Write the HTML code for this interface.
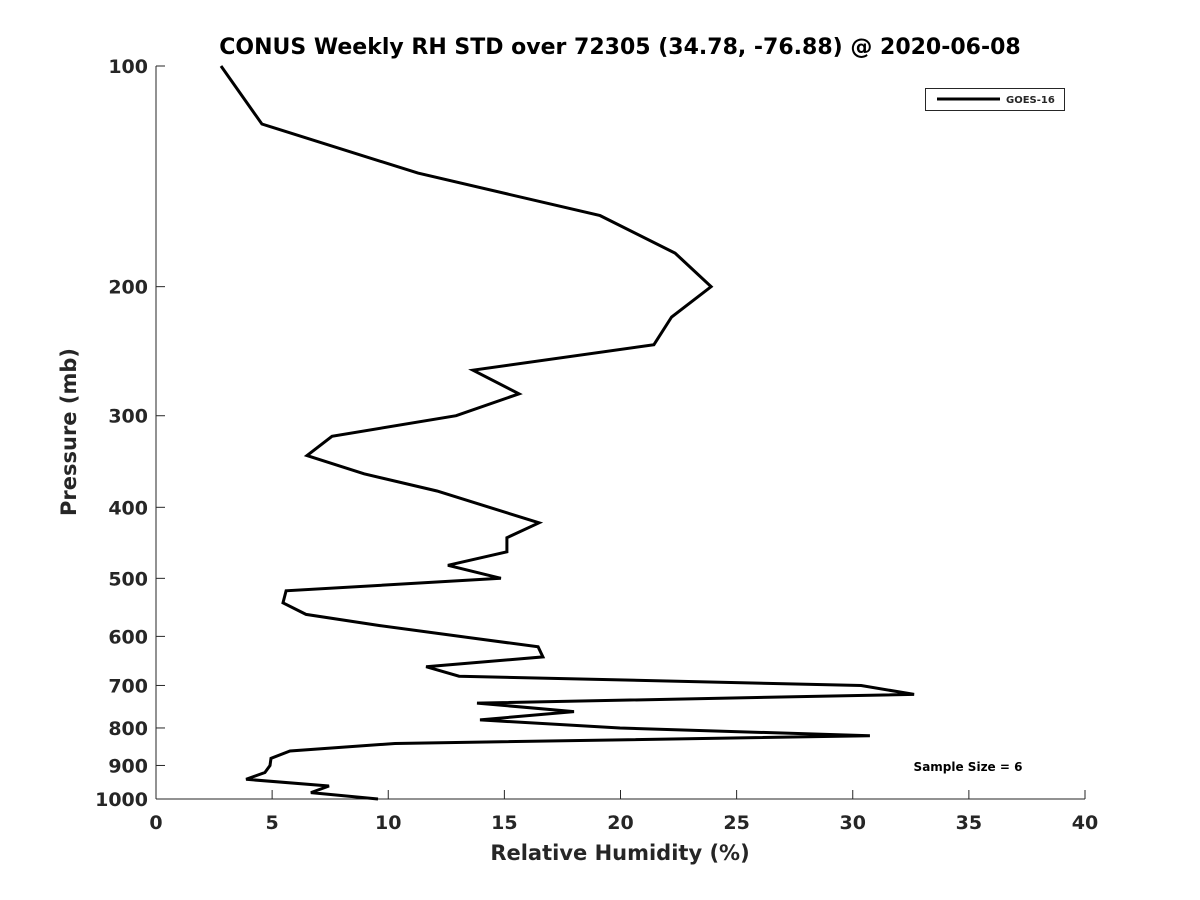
<!DOCTYPE html>
<html><head><meta charset="utf-8"><style>
html,body{margin:0;padding:0;background:#fff;width:1200px;height:900px;overflow:hidden}
svg text{font-family:"DejaVu Sans","Liberation Sans",sans-serif;font-weight:bold;fill:#262626}
</style></head><body>
<svg id="chart" width="1200" height="900" xmlns="http://www.w3.org/2000/svg">
<rect width="1200" height="900" fill="#fff"/>
<text x="620" y="54" font-size="22" text-anchor="middle" style="fill:#000">CONUS Weekly RH STD over 72305 (34.78, -76.88) @ 2020-06-08</text>
<g id="axes"></g>
<path id="series" fill="none" stroke="#000" stroke-width="3" stroke-linejoin="miter"/>
<g>
<rect x="925.5" y="88.5" width="139" height="22" fill="#fff" stroke="#262626" stroke-width="1"/>
<line x1="937" y1="99" x2="1000" y2="99" stroke="#000" stroke-width="3"/>
<text x="1006" y="103" font-size="10">GOES-16</text>
</g>
<text x="968" y="771" font-size="12" text-anchor="middle" style="fill:#000">Sample Size = 6</text>
<text x="620" y="860" font-size="21" text-anchor="middle">Relative Humidity (%)</text>
<text x="76" y="432" font-size="21" text-anchor="middle" transform="rotate(-90 76 432)">Pressure (mb)</text>
</svg>
<script>
const pressures = [100,120,140,160,180,200,220,240,260,280,300,320,340,360,380,420,440,460,480,500,520,540,560,580,600,620,640,660,680,700,720,740,760,780,800,820,840,860,880,900,920,940,960,980,1000];
const rhStd = [2.8,4.56,11.28,19.12,22.35,23.9,22.2,21.44,13.65,15.63,12.92,7.58,6.5,8.96,12.1,16.49,15.11,15.11,12.57,14.85,5.6,5.47,6.46,9.64,13.09,16.45,16.66,11.63,13.05,30.36,32.64,13.82,18.0,13.95,19.98,30.74,10.29,5.77,4.95,4.91,4.69,3.88,7.45,6.67,9.56];
const xTicks = [0,5,10,15,20,25,30,35,40];
const yTicks = [100,200,300,400,500,600,700,800,900,1000];
const X0=156,X1=1085,Y0=66,Y1=799;
function xs(v){return X0+(v-0)/40*(X1-X0);}
function ys(p){return Y0+(Math.log10(p)-2)*(Y1-Y0);}
const NS="http://www.w3.org/2000/svg";
const ax=document.getElementById('axes');
function mk(tag,attrs){const e=document.createElementNS(NS,tag);for(const k in attrs)e.setAttribute(k,attrs[k]);return e;}
let l=mk('line',{x1:X0,y1:Y0,x2:X0,y2:Y1,stroke:'#262626','stroke-width':1});


ax.appendChild(l);
l=mk('line',{x1:X0,y1:Y1,x2:X1,y2:Y1,stroke:'#262626','stroke-width':1});


ax.appendChild(l);
xTicks.forEach(t=>{const x=xs(t);
 const tk=mk('line',{x1:x,y1:Y1,x2:x,y2:Y1-9,stroke:'#262626','stroke-width':1});
 
 
 ax.appendChild(tk);
 const tx=mk('text',{x:x,y:Y1+30,'font-size':19,'text-anchor':'middle'});tx.textContent=t;
 
 
 ax.appendChild(tx);});
yTicks.forEach(t=>{const y=ys(t);
 const tk=mk('line',{x1:X0,y1:y,x2:X0+9,y2:y,stroke:'#262626','stroke-width':1});
 
 
 ax.appendChild(tk);
 const tx=mk('text',{x:X0-8,y:y+7,'font-size':19,'text-anchor':'end'});tx.textContent=t;
 
 
 ax.appendChild(tx);});
document.getElementById('series').setAttribute('d',pressures.map((p,i)=>(i?'L':'M')+xs(rhStd[i]).toFixed(1)+','+ys(p).toFixed(1)).join(' '));
</script>
</body></html>
